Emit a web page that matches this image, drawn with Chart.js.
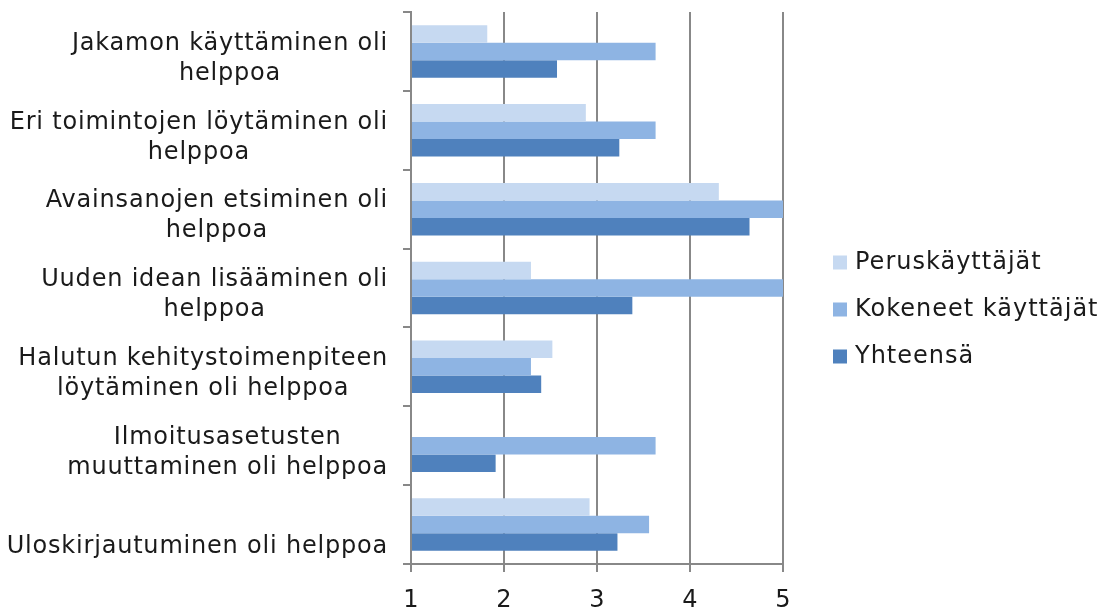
<!DOCTYPE html>
<html>
<head>
<meta charset="utf-8">
<script src="https://cdn.jsdelivr.net/npm/chart.js@4.4.1/dist/chart.umd.min.js"></script>
<style>
  html, body { margin: 0; padding: 0; background: #fff; }
  #wrap { width: 1105px; height: 609px; }
</style>
</head>
<body>
<div id="wrap"><canvas id="myBarChart"></canvas></div>
<script>
const categories = [
  ['Jakamon käyttäminen oli', 'helppoa'],
  ['Eri toimintojen löytäminen oli', 'helppoa'],
  ['Avainsanojen etsiminen oli', 'helppoa'],
  ['Uuden idean lisääminen oli', 'helppoa'],
  ['Halutun kehitystoimenpiteen', 'löytäminen oli helppoa'],
  ['Ilmoitusasetusten', 'muuttaminen oli helppoa'],
  ['', 'Uloskirjautuminen oli helppoa']
];
const seriesNames = ['Peruskäyttäjät', 'Kokeneet käyttäjät', 'Yhteensä'];
const perus = [1.82, 2.88, 4.31, 2.29, 2.52, null, 2.92];
const kokeneet = [3.63, 3.63, 5, 5, 2.29, 3.63, 3.56];
const yhteensa = [2.57, 3.24, 4.64, 3.38, 2.40, 1.91, 3.22];
const xTicks = [1, 2, 3, 4, 5];
const colors = ['#c6d9f1', '#8eb4e3', '#4f81bd'];

const fontFamily = '"DejaVu Sans", sans-serif';
const gridColor = '#888888';

// category labels, each block centred on its own width, right edge at the axis
const categoryLabels = {
  id: 'categoryLabels',
  afterDraw(chart) {
    const ctx = chart.ctx;
    const scale = chart.scales.y;
    const lineH = 30;
    ctx.save();
    ctx.font = `24px ${fontFamily}`;
    ctx.letterSpacing = '0.8px';
    ctx.fillStyle = '#1a1a1a';
    ctx.textAlign = 'center';
    ctx.textBaseline = 'middle';
    categories.forEach((lines, i) => {
      const y = scale.getPixelForTick(i) + 7;
      const w = Math.max(...lines.map(l => ctx.measureText(l).width));
      const cx = scale.right - 23 - w / 2;
      lines.forEach((l, j) => {
        ctx.fillText(l, cx, y + (j - (lines.length - 1) / 2) * lineH);
      });
    });
    ctx.restore();
  }
};

// legend on the right, squares + labels
const sideLegend = {
  id: 'sideLegend',
  afterDraw(chart) {
    const ctx = chart.ctx;
    const x = chart.chartArea.right + 50;
    const midY = chart.height / 2 + 5;
    ctx.save();
    ctx.font = `24px ${fontFamily}`;
    ctx.letterSpacing = '1px';
    ctx.textAlign = 'left';
    ctx.textBaseline = 'middle';
    chart.data.datasets.forEach((ds, i) => {
      const y = midY + (i - 1) * 47;
      ctx.fillStyle = ds.backgroundColor;
      ctx.fillRect(x, y - 7, 14, 14);
      ctx.fillStyle = '#1a1a1a';
      ctx.fillText(ds.label, x + 22, y);
    });
    ctx.restore();
  }
};

const displayBarChart = () => {
  const ctx = document.getElementById('myBarChart').getContext('2d');
  const values = [perus, kokeneet, yhteensa];
  new Chart(ctx, {
    type: 'bar',
    data: {
      labels: categories,
      datasets: seriesNames.map((name, i) => ({
        label: name,
        data: values[i],
        backgroundColor: colors[i],
        borderWidth: 0,
        base: 1,
        categoryPercentage: 0.666,
        barPercentage: 1.0
      }))
    },
    options: {
      indexAxis: 'y',
      responsive: true,
      maintainAspectRatio: false,
      animation: false,
      layout: { padding: { top: 12, right: 322, left: 0, bottom: 0 } },
      plugins: {
        legend: { display: false },
        tooltip: { enabled: false }
      },
      scales: {
        x: {
          min: 1,
          max: 5,
          afterBuildTicks: s => { s.ticks = xTicks.map(v => ({ value: v })); },
          ticks: { font: { family: fontFamily, size: 24 }, color: '#1a1a1a', padding: 14 },
          grid: { color: gridColor, lineWidth: 2, tickLength: 8 },
          border: { color: gridColor, width: 2 },
          afterFit: s => { s.height = 45; }
        },
        y: {
          grid: { drawOnChartArea: false, offset: true, color: gridColor, lineWidth: 2, tickLength: 8 },
          border: { color: gridColor, width: 2 },
          ticks: { color: 'rgba(0,0,0,0)', font: { size: 1 } },
          afterFit: s => { s.width = 411; }
        }
      }
    },
    plugins: [categoryLabels, sideLegend]
  });
};

displayBarChart();
</script>
</body>
</html>
